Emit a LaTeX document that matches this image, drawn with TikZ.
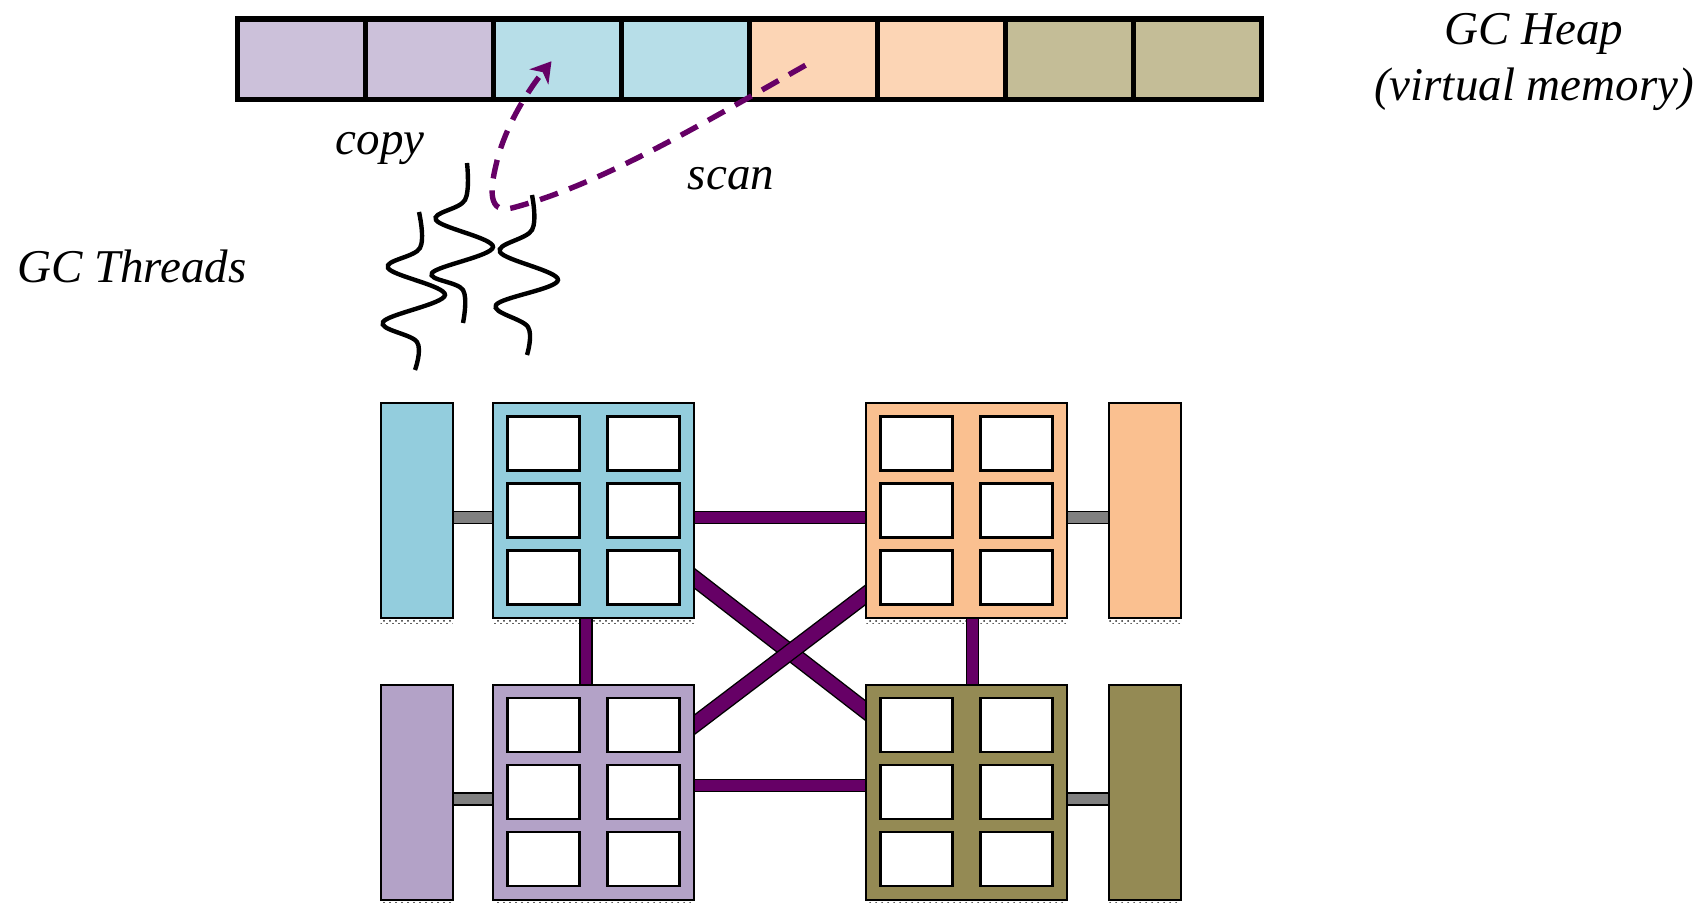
\documentclass[tikz,border=0pt]{standalone}
\usepackage{fontspec}
\setmainfont{Liberation Serif}
\usetikzlibrary{arrows.meta, positioning, calc, backgrounds, patterns}
\definecolor{heappurple}{HTML}{CCC1DA}
\definecolor{heapblue}{HTML}{B7DEE8}
\definecolor{heappeach}{HTML}{FCD5B5}
\definecolor{heapolive}{HTML}{C4BD97}
\definecolor{nodeblue}{HTML}{93CDDD}
\definecolor{nodepeach}{HTML}{FAC090}
\definecolor{nodepurple}{HTML}{B3A2C7}
\definecolor{nodeolive}{HTML}{948A54}
\definecolor{busviolet}{HTML}{660066}
\tikzset{
  heapcell/.style={rectangle,draw,line width=2.6pt,minimum width=64pt,minimum height=40.25pt,inner sep=0pt,outer sep=0pt},
  numa/.style={rectangle,draw,line width=1pt,minimum width=100.5pt,minimum height=107.5pt,inner sep=0pt,outer sep=0pt},
  memory/.style={numa,minimum width=36pt},
  slot/.style={rectangle,draw,fill=white,line width=1.2pt,minimum width=36pt,minimum height=27pt,inner sep=0pt,outer sep=0pt},
  lbl/.style={font=\fontsize{23.5}{28}\selectfont\itshape,inner sep=0pt},
  floor/.style={pattern=crosshatch dots,pattern color=black!85},
  bus/.style={draw=black,line width=0.7pt,double=busviolet,double distance=5.4pt},
  crossbus/.style={bus,double distance=7pt,shorten <=-8pt,shorten >=-8pt},
  link/.style={draw=black,line width=0.7pt,double=gray,double distance=5.4pt},
  thread/.style={line width=2.2pt},
  scanpath/.style={busviolet,line width=2.7pt,dash pattern=on 9.5pt off 6pt,-{Stealth[length=10pt,width=12pt,inset=3pt]}}
}
\begin{document}
\begin{tikzpicture}[x=0.5pt,y=-0.5pt]
\useasboundingbox (0,0) rectangle (1708,903);

% heap
\foreach [count=\i] \c in {heappurple,heappurple,heapblue,heapblue,heappeach,heappeach,heapolive,heapolive}
  \node[heapcell,fill=\c] (h\i) at ({237.5+128*(\i-0.5)},59.25) {};

\node[lbl,align=center] (heaplbl) at (1534,62) {GC Heap\\(virtual memory)};
\node[lbl,anchor=base] (copylbl) at (380,155) {copy};
\node[lbl,anchor=base] (scanlbl) at (731,190) {scan};
\node[lbl,anchor=base] (threadlbl) at (132,283) {GC Threads};

% threads
\draw[thread] plot[smooth,tension=0.6] coordinates {(419,212) (420,248) (388,268) (445,295) (383,322) (417,342) (415,370)};
\draw[thread] plot[smooth,tension=0.6] coordinates {(467,163) (465,200) (436,220) (493,247) (432,273) (463,290) (463,323)};
\draw[thread] plot[smooth,tension=0.6] coordinates {(532,195) (532,230) (500,252) (558,280) (496,305) (528,327) (527,355)};

\draw[scanpath] ($(h5)+(-8,6)$) .. controls (700,125) and (600,185) .. (512,208)
  .. controls (488,214) and (490,190) .. (496,165)
  .. controls (505,125) and (530,88) .. ($(h3)+(-6,2)$);

% numa nodes
\node[numa,fill=nodeblue] (tl) at (593.5,510.5) {};
\node[numa,fill=nodepeach] (tr) at (966.5,510.5) {};
\node[numa,fill=nodepurple] (bl) at (593.5,792) {};
\node[numa,fill=nodeolive] (br) at (966.5,792) {};
\node[memory,fill=nodeblue] (tlmem) at (416.5,510.5) {};
\node[memory,fill=nodepeach] (trmem) at (1145,510.5) {};
\node[memory,fill=nodepurple] (blmem) at (416.5,792) {};
\node[memory,fill=nodeolive] (brmem) at (1145,792) {};

\foreach \n in {tl,tr,bl,br}
  \foreach \c/\dx in {1/-50,2/50}
    \foreach \r/\dy in {1/-67,2/0,3/67}
      \node[slot] (\n-\r\c) at ($(\n)+(\dx,\dy)$) {};

\begin{scope}[on background layer]
\foreach \b in {tl,tr,bl,br,tlmem,trmem,blmem,brmem}
  \fill[floor] (\b.south west) rectangle ([yshift=-2.8pt]\b.south east);
% memory links
\draw[link] ($(tlmem.east)+(0,7)$) -- ($(tl.west)+(0,7)$);
\draw[link] ($(tr.east)+(0,7)$) -- ($(trmem.west)+(0,7)$);
\draw[link] ($(blmem.east)+(0,7)$) -- ($(bl.west)+(0,7)$);
\draw[link] ($(br.east)+(0,7)$) -- ($(brmem.west)+(0,7)$);
% interconnect
\draw[bus] ($(tl.east)+(0,7)$) -- ($(tr.west)+(0,7)$);
\draw[bus] ($(bl.east)+(0,-6.5)$) -- ($(br.west)+(0,-6.5)$);
\draw[bus] ($(tl.south)+(-7.5,0)$) -- ($(bl.north)+(-7.5,0)$);
\draw[bus] ($(tr.south)+(6,0)$) -- ($(br.north)+(6,0)$);
\draw[crossbus] ($(tl.east)+(0,67.5)$) -- ($(br.west)+(0,-81)$);
\draw[crossbus] ($(bl.east)+(0,-67)$) -- ($(tr.west)+(0,84)$);
\end{scope}
\end{tikzpicture}
\end{document}
